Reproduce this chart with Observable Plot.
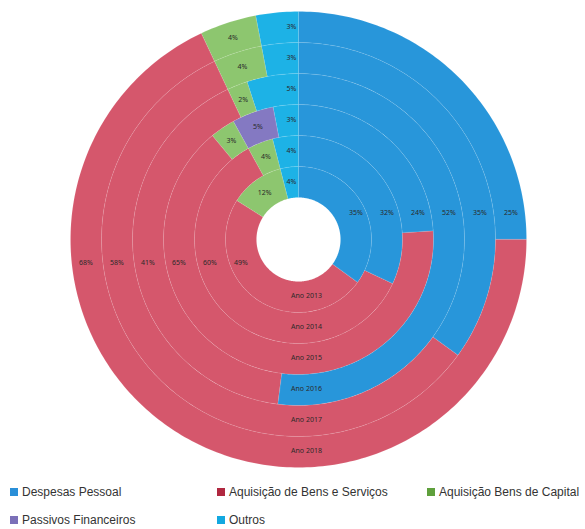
<!DOCTYPE html>
<html><head><meta charset="utf-8">
<script src="https://cdn.jsdelivr.net/npm/d3@7"></script>
<script src="https://cdn.jsdelivr.net/npm/@observablehq/plot@0.6"></script>
<style>
body{margin:0;background:#fff;font-family:"Liberation Sans",Arial,sans-serif;}
#wrap{position:relative;width:585px;height:529px;overflow:hidden;}
#legend{position:absolute;left:0;top:478px;width:585px;height:51px;font-size:12px;color:#333;}
.li{position:absolute;white-space:nowrap;display:flex;align-items:center;}
.sw{width:8px;height:8px;margin-right:4px;display:inline-block;}
</style></head>
<body><div id="wrap"><div id="chart"></div><div id="legend"></div></div>
<script>
// ---- data ----
const years = ["Ano 2013","Ano 2014","Ano 2015","Ano 2016","Ano 2017","Ano 2018"];
const seriesNames = ["Despesas Pessoal","Aquisição de Bens e Serviços","Aquisição Bens de Capital","Passivos Financeiros","Outros"];
const despesasPessoal = [35, 32, 24, 52, 35, 25];
const bensServicos   = [49, 60, 65, 41, 58, 68];
const bensCapital    = [12, 4, 3, 2, 4, 4];
const passivos       = [0, 0, 5, 0, 0, 0];
const outros         = [4, 4, 3, 5, 3, 3];
const seriesColors = ["#2896da","#d5576c","#8dc66f","#8479c2","#1db2e6"];
const legendColors = ["#2a8fd8","#b02840","#5fa03c","#7b70b8","#12a8e0"];

// ---- layout ----
const W = 585, H = 478, cx = 298, cy = 239;
const r0 = 42, ringW = 31;
const valuesBySeries = [despesasPessoal, bensServicos, bensCapital, passivos, outros];

const polys = [];
const labels = [];
years.forEach((yr, i) => {
  const ri = r0 + i * ringW, ro = ri + ringW, rm = (ri + ro) / 2;
  let cum = 0;
  valuesBySeries.forEach((vals, s) => {
    const v = vals[i];
    if (!v) { return; }
    const a0 = cum / 100 * 2 * Math.PI, a1 = (cum + v) / 100 * 2 * Math.PI;
    cum += v;
    const id = i + "-" + s;
    const n = Math.max(2, Math.ceil((a1 - a0) / (Math.PI / 180)));
    for (let k = 0; k <= n; k++) { const a = a0 + (a1 - a0) * k / n; polys.push({id, series: seriesNames[s], x: ro * Math.sin(a), y: ro * Math.cos(a)}); }
    for (let k = n; k >= 0; k--) { const a = a0 + (a1 - a0) * k / n; polys.push({id, series: seriesNames[s], x: ri * Math.sin(a), y: ri * Math.cos(a)}); }
    const am = (a0 + a1) / 2;
    let lx, ly;
    if (s === 0) { lx = rm; ly = 27; }
    else if (s === 1) { lx = -rm; ly = -23; }
    else if (s === 4) { lx = -7; ly = rm; }
    else { lx = rm * Math.sin(am); ly = rm * Math.cos(am); }
    labels.push({x: lx, y: ly, text: v + "%"});
  });
  labels.push({x: 8, y: -rm + 1, text: yr, bold: true});
});

const plot = Plot.plot({
  width: W, height: H, margin: 0,
  x: {domain: [-cx, W - cx], axis: null},
  y: {domain: [-(H - cy), cy], axis: null},
  color: {domain: seriesNames, range: seriesColors},
  style: {background: "white"},
  marks: [
    Plot.line(polys, {x: "x", y: "y", z: "id", fill: "series", stroke: "#ffffff", strokeOpacity: 0.15, strokeWidth: 0.6, curve: "linear-closed"}),
    Plot.text(labels, {x: "x", y: "y", text: "text", fontSize: 7, fill: "#2a2a2a", fontWeight: d => d.bold ? "bold" : "normal"})
  ]
});
document.getElementById("chart").appendChild(plot);

// legend
const legendPos = [[10,15],[217,15],[427,15],[10,43],[217,43]];
const lg = document.getElementById("legend");
seriesNames.forEach((nm, i) => {
  const d = document.createElement("div");
  d.className = "li";
  d.style.left = legendPos[i][0] + "px";
  d.style.top = (legendPos[i][1] - 8) + "px";
  d.innerHTML = `<span class="sw" style="background:${legendColors[i]}"></span><span>${nm}</span>`;
  lg.appendChild(d);
});
</script>
</body></html>
